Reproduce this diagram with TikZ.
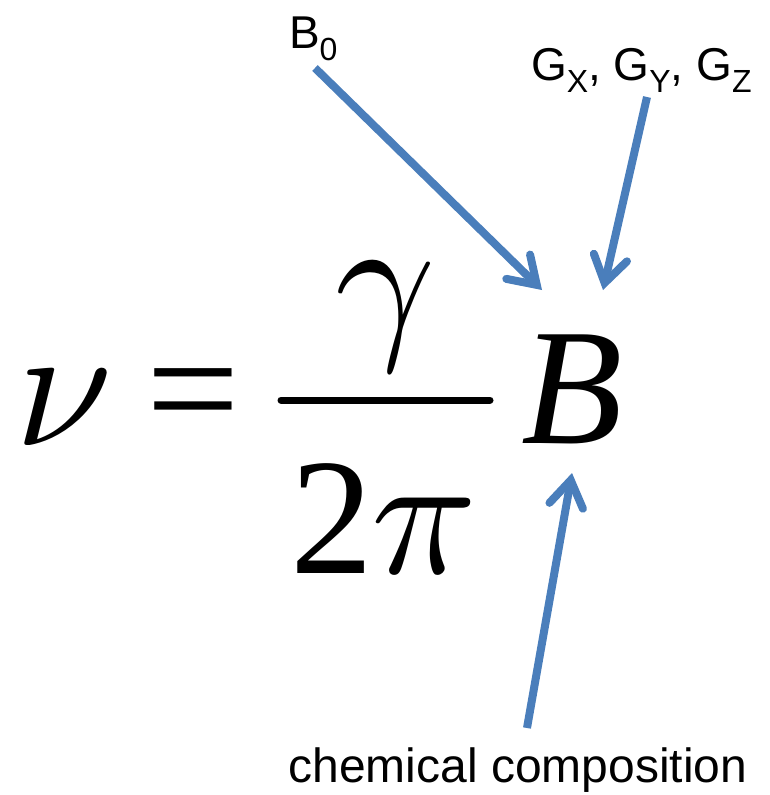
\documentclass[tikz,border=0pt]{standalone}
\usepackage{fontspec}
\usepackage{graphicx}
\setmainfont{Liberation Sans}
\newfontfamily\eqfont{Liberation Serif}
\usetikzlibrary{arrows.meta}
\definecolor{arrowblue}{RGB}{74,126,187}
\newcommand{\lowsub}[1]{\raisebox{-12pt}{\fontsize{32}{32}\selectfont #1}}
\newcommand{\bigmath}[1]{\scalebox{17.5}{$#1$}}
\tikzset{
  glyph/.style={inner sep=0pt, outer sep=0pt, anchor=base, font=\eqfont\fontsize{166}{166}\selectfont\itshape},
  mglyph/.style={inner sep=0pt, outer sep=0pt, anchor=base},
  upglyph/.style={inner sep=0pt, outer sep=0pt, anchor=base, font=\eqfont\fontsize{166}{166}\selectfont},
  lbl/.style={inner sep=0pt, outer sep=0pt, font=\fontsize{46}{46}\selectfont},
  pointer/.style={draw=arrowblue, line width=8pt, line cap=butt,
    -{Straight Barb[length=26pt,width=34pt,line cap=round,line join=miter]}}
}
\begin{document}
\begin{tikzpicture}[x=1pt,y=-1pt]
\useasboundingbox (0,0) rectangle (770,795);
% equation
\node[mglyph] (nu) at (64,445) {\bigmath{\nu}};
\node[upglyph] (eq) at (193,444) {=};
\node[mglyph] (gamma) at (386,337) {\bigmath{\gamma}};
\draw[line width=7pt, line cap=round] (281,400) -- (490,400) coordinate (barR);
\node[upglyph, anchor=base west] (two) at (290,573) {2};
\node[mglyph, anchor=base west] (pi) at ([xshift=-2pt]two.base east) {\bigmath{\pi}};
\node[glyph] (B) at (572,443) {B};
% labels
\node[lbl, anchor=base west] (b0) at (289,48) {B\lowsub{0}};
\node[lbl, anchor=base west] (gxyz) at (531,80) {G\lowsub{X}, G\lowsub{Y}, G\lowsub{Z}};
\node[lbl, anchor=base, font=\fontsize{48}{48}\selectfont] (chem) at (518,782) {chemical composition};
% arrow anchor points
\coordinate (s1) at (315,68);
\coordinate (t1) at (542,290);
\coordinate (s2) at (647,97);
\coordinate (t2) at (603,290);
\coordinate (s3) at (527,728);
\coordinate (t3) at (572,473);
\draw[pointer] (s1) -- (t1);
\draw[pointer] (s2) -- (t2);
\draw[pointer] (s3) -- (t3);
\end{tikzpicture}
\end{document}
